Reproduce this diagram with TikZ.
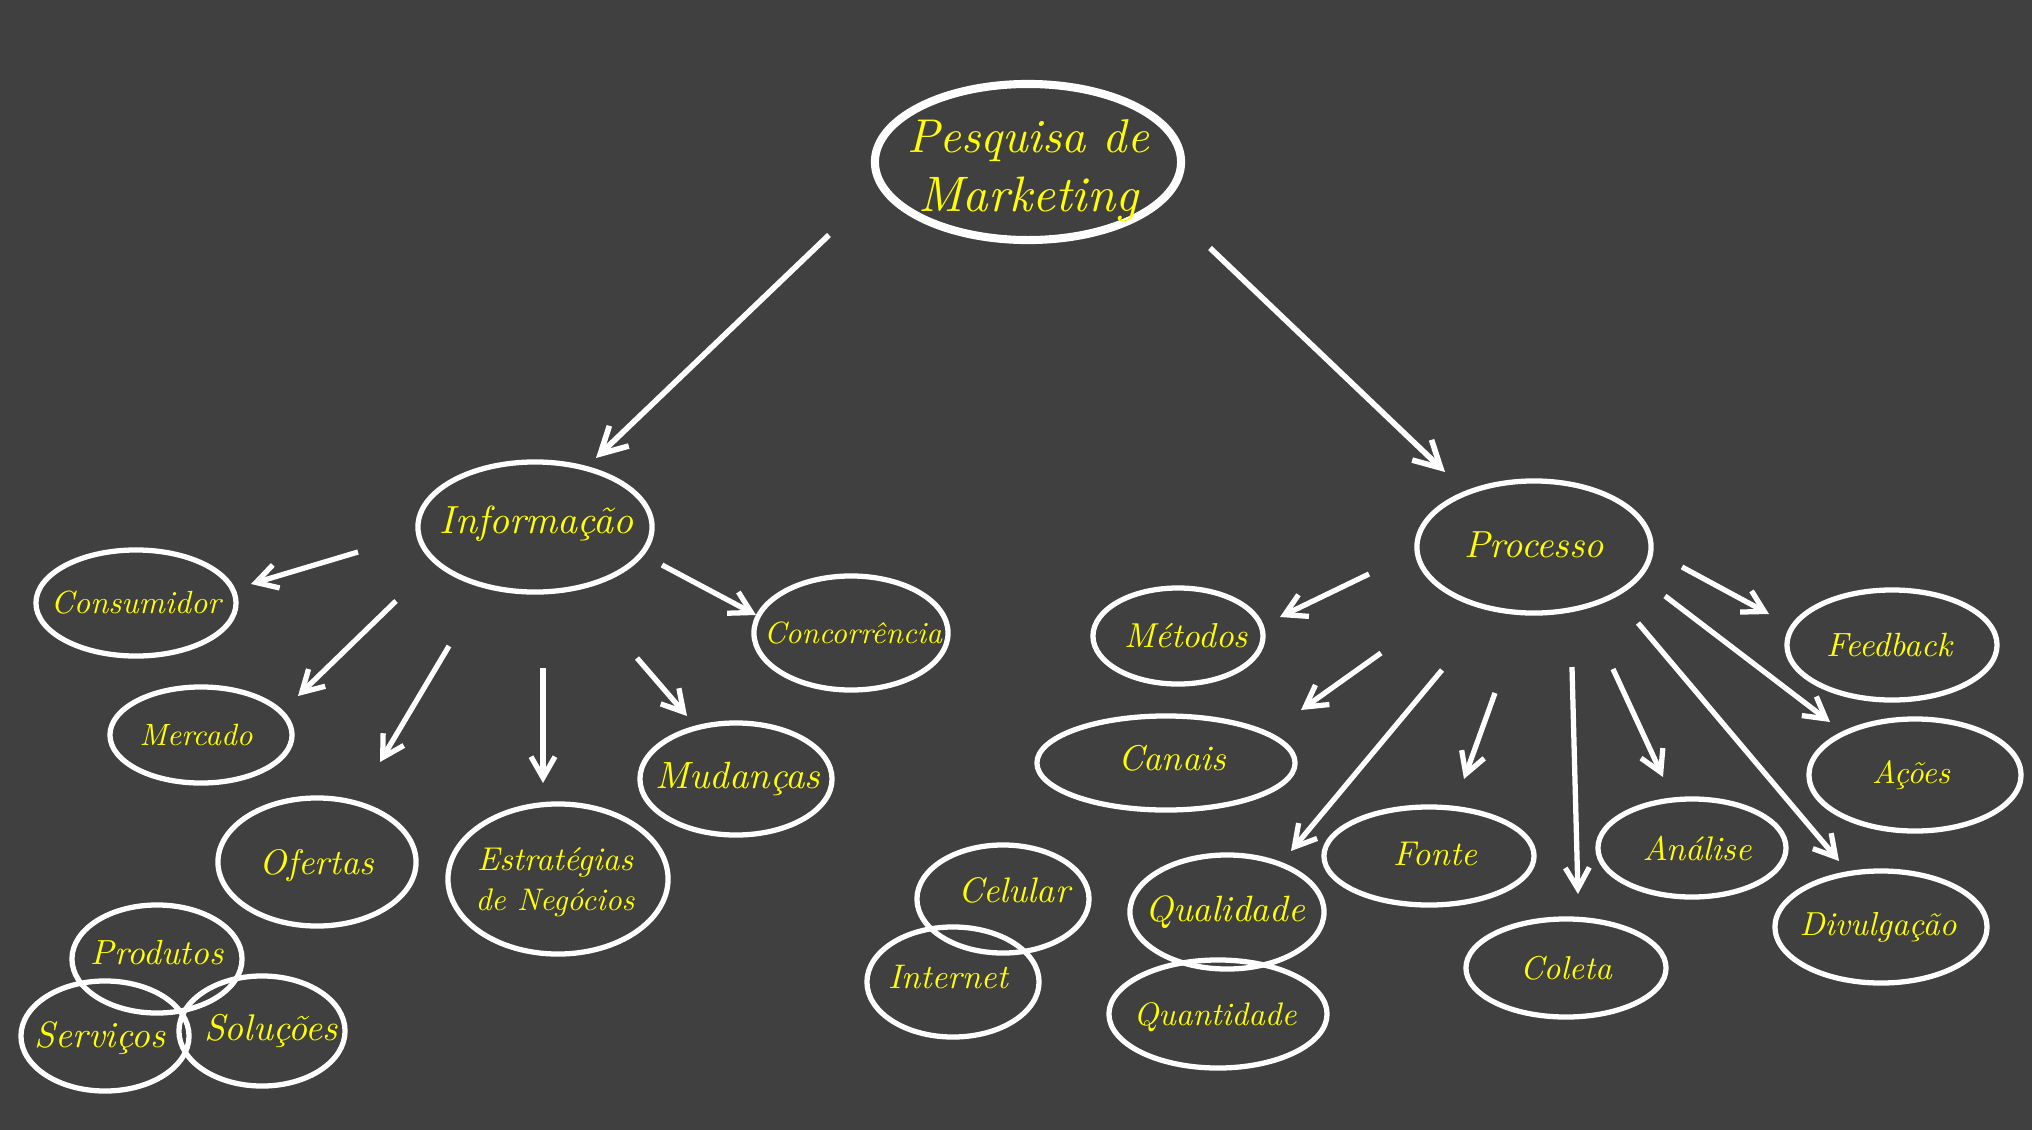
\documentclass[tikz,border=0pt]{standalone}
\usepackage{graphicx}
\usetikzlibrary{shapes.geometric,arrows.meta}
\definecolor{bgc}{HTML}{404040}
\definecolor{txtc}{HTML}{FFFF00}
\newlength\pxu \setlength\pxu{0.01cm}
\newsavebox\lblbox
% \lbl{dx}{dy}{width}{text}
\newcommand\lbl[4]{\sbox\lblbox{\resizebox{#3\pxu}{!}{#4}}%
  \raisebox{\dimexpr(\dp\lblbox-\ht\lblbox)/2-#2\pxu\relax}[0pt][0pt]{\hbox to 0pt{\hss\hskip#1\pxu\usebox\lblbox\hskip-#1\pxu\hss}}}
% \lblii{dx}{dy}{w1}{t1}{w2}{t2}{baselineskip}
\newcommand\lblii[7]{\sbox\lblbox{\vbox{\baselineskip=#7\pxu\lineskiplimit=-\maxdimen\lineskip=0pt
  \hbox to 0pt{\hss\resizebox{#3\pxu}{!}{#4}\hss}\hbox to 0pt{\hss\resizebox{#5\pxu}{!}{#6}\hss}}}%
  \raisebox{\dimexpr(\dp\lblbox-\ht\lblbox)/2-#2\pxu\relax}[0pt][0pt]{\hbox to 0pt{\hss\hskip#1\pxu\usebox\lblbox\hskip-#1\pxu\hss}}}
\tikzset{
  ell/.style 2 args={ellipse, draw=white, line width=1.5pt, minimum width=#1, minimum height=#2,
    inner sep=0pt, outer sep=0pt, text=txtc, font=\itshape},
  conn/.style={draw=white, line width=1.5pt, -{Straight Barb[length=2.1mm,width=2.4mm]}},
  bigconn/.style={draw=white, line width=1.6pt, -{Straight Barb[length=2.6mm,width=2.8mm]}},
}
\begin{document}
\begin{tikzpicture}[x=0.01cm,y=-0.01cm]
\fill[bgc] (0,0) rectangle (2032,1130);
\useasboundingbox (0,0) rectangle (2032,1130);

% main nodes
\node[ell={3.06cm}{1.56cm}, line width=2.3pt] (pm) at (1028,162) {\lblii{0}{9}{242}{Pesquisa de}{220}{Marketing}{59}};
\node[ell={2.34cm}{1.30cm}] (inf) at (535,527) {\lbl{2}{-3}{194}{Informação}};
\node[ell={2.34cm}{1.32cm}] (proc) at (1534,547) {\lbl{0}{-2}{140}{Processo}};

% Informação children
\node[ell={2.00cm}{1.06cm}] (con) at (136,603) {\lbl{0}{0}{170}{Consumidor}};
\node[ell={1.82cm}{0.96cm}] (mer) at (201,735) {\lbl{-5}{0}{113}{Mercado}};
\node[ell={1.98cm}{1.28cm}] (ofe) at (317,862) {\lbl{0}{4}{114}{Ofertas}};
\node[ell={2.20cm}{1.50cm}] (est) at (558,879) {\lblii{-3}{3}{156}{Estratégias}{159}{de Negócios}{40}};
\node[ell={1.92cm}{1.12cm}] (mud) at (736,779) {\lbl{2}{0}{165}{Mudanças}};
\node[ell={1.94cm}{1.14cm}] (conc) at (851,633) {\lbl{2}{0}{178}{Concorrência}};

\node[ell={1.70cm}{1.08cm}] (prod) at (157,959) {\lbl{0}{-6}{133}{Produtos}};
\node[ell={1.68cm}{1.10cm}] (serv) at (105,1036) {\lbl{-5}{2}{130}{Serviços}};
\node[ell={1.66cm}{1.10cm}] (sol) at (262,1031) {\lbl{9}{0}{134}{Soluções}};

% Processo children
\node[ell={1.70cm}{0.96cm}] (met) at (1178,636) {\lbl{8}{0}{124}{Métodos}};
\node[ell={2.58cm}{0.94cm}] (can) at (1166,763) {\lbl{6}{-5}{108}{Canais}};
\node[ell={2.10cm}{0.98cm}] (fon) at (1429,856) {\lbl{6}{-2}{84}{Fonte}};
\node[ell={1.94cm}{1.14cm}] (qual) at (1227,912) {\lbl{-2}{0}{160}{Qualidade}};
\node[ell={2.18cm}{1.08cm}] (quan) at (1218,1014) {\lbl{-3}{3}{163}{Quantidade}};
\node[ell={1.72cm}{1.08cm}] (cel) at (1003,899) {\lbl{11}{-9}{112}{Celular}};
\node[ell={1.72cm}{1.10cm}] (int) at (953,982) {\lbl{-5}{-5}{120}{Internet}};
\node[ell={2.00cm}{0.98cm}] (col) at (1566,968) {\lbl{0}{0}{92}{Coleta}};
\node[ell={1.88cm}{0.98cm}] (ana) at (1692,848) {\lbl{5}{0}{109}{Análise}};
\node[ell={2.10cm}{1.10cm}] (fee) at (1892,645) {\lbl{-3}{0}{126}{Feedback}};
\node[ell={2.12cm}{1.12cm}] (aco) at (1915,775) {\lbl{-4}{0}{78}{Ações}};
\node[ell={2.12cm}{1.12cm}] (div) at (1881,927) {\lbl{-3}{0}{157}{Divulgação}};

% connector end points
\coordinate (pm-inf-s) at (829,235);   \coordinate (pm-inf-e) at (596,458);
\coordinate (pm-proc-s) at (1210,248); \coordinate (pm-proc-e) at (1445,472);
\coordinate (inf-con-s) at (358,552);  \coordinate (inf-con-e) at (251,584);
\coordinate (inf-mer-s) at (396,601);  \coordinate (inf-mer-e) at (298,696);
\coordinate (inf-ofe-s) at (449,646);  \coordinate (inf-ofe-e) at (380,762);
\coordinate (inf-est-s) at (543,668);  \coordinate (inf-est-e) at (543,783);
\coordinate (inf-mud-s) at (637,658);  \coordinate (inf-mud-e) at (687,716);
\coordinate (inf-conc-s) at (662,565); \coordinate (inf-conc-e) at (756,615);
\coordinate (proc-met-s) at (1369,574);  \coordinate (proc-met-e) at (1280,617);
\coordinate (proc-can-s) at (1381,653);  \coordinate (proc-can-e) at (1301,710);
\coordinate (proc-qual-s) at (1442,670); \coordinate (proc-qual-e) at (1291,851);
\coordinate (proc-fon-s) at (1495,693);  \coordinate (proc-fon-e) at (1464,779);
\coordinate (proc-col-s) at (1572,667);  \coordinate (proc-col-e) at (1578,894);
\coordinate (proc-ana-s) at (1613,669);  \coordinate (proc-ana-e) at (1663,777);
\coordinate (proc-div-s) at (1638,623);  \coordinate (proc-div-e) at (1839,861);
\coordinate (proc-aco-s) at (1665,596);  \coordinate (proc-aco-e) at (1830,722);
\coordinate (proc-fee-s) at (1682,567);  \coordinate (proc-fee-e) at (1769,614);

\draw[bigconn] (pm-inf-s) -- (pm-inf-e);
\draw[bigconn] (pm-proc-s) -- (pm-proc-e);
\foreach \a in {con,mer,ofe,est,mud,conc}{\draw[conn] (inf-\a-s) -- (inf-\a-e);}
\foreach \a in {met,can,qual,fon,col,ana,div,aco,fee}{\draw[conn] (proc-\a-s) -- (proc-\a-e);}
\end{tikzpicture}
\end{document}
